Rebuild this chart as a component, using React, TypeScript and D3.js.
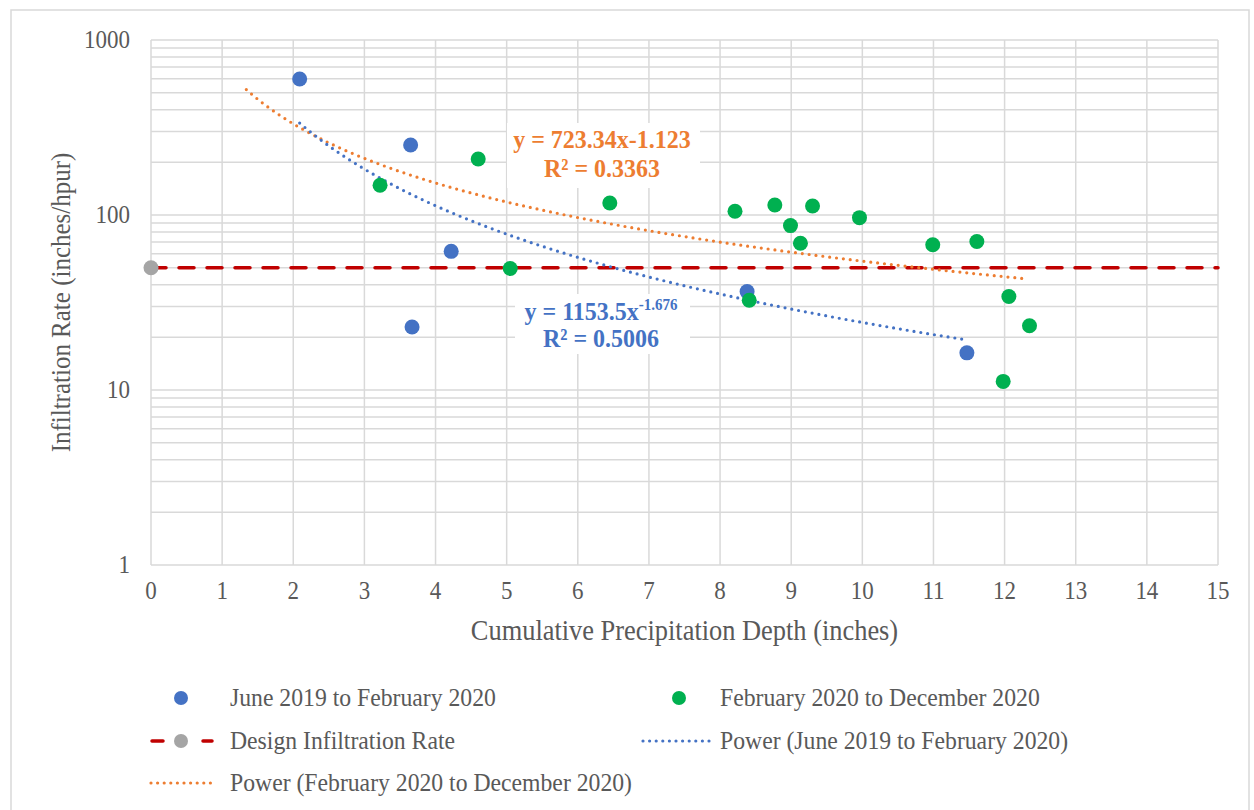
import React from "react";
import * as d3 from "d3";

// Cumulative precipitation depth (in) vs. infiltration rate (in/hr)
const juneSeriesX = [2.09, 3.65, 4.22, 3.67, 8.38, 11.47];
const juneSeriesY = [599, 251, 62, 22.9, 36.5, 16.3];

const febSeriesX = [3.22, 4.6, 5.05, 6.45, 8.21, 8.77, 8.99, 9.3, 9.13, 8.41, 9.96, 10.99, 11.61, 12.06, 12.35, 11.98];
const febSeriesY = [148, 209, 49.5, 117, 105, 114, 87, 112.5, 69, 32.6, 96.6, 67.6, 70.5, 34.2, 23.3, 11.2];

const designRate = 50;

// Power trendline fits: y = a * x^b
const juneFit = { a: 1153.5, b: -1.676, r2: "0.5006", from: 2.09, to: 11.45 };
const febFit = { a: 723.34, b: -1.123, r2: "0.3363", from: 1.34, to: 12.33 };

const xTicks = d3.range(0, 16);
const yTickLabels = [1, 10, 100, 1000];

const legendLabels = [
  "June 2019 to February 2020",
  "February 2020 to December 2020",
  "Design Infiltration Rate",
  "Power (June 2019 to February 2020)",
  "Power (February 2020 to December 2020)",
];

const BLUE = "#4472C4";
const GREEN = "#00B050";
const ORANGE = "#ED7D31";
const RED = "#C00000";
const GREY = "#A5A5A5";
const GRID = "#D9D9D9";
const TEXT = "#595959";
const FONT = "'Liberation Serif', 'Times New Roman', serif";
const SY = 1.08; // glyphs are drawn slightly taller than wide

type TProps = {
  x: number;
  y: number;
  size: number;
  anchor?: "start" | "middle" | "end";
  fill?: string;
  weight?: string;
  rotate?: number;
  children: React.ReactNode;
};

function T({ x, y, size, anchor = "start", fill = TEXT, weight = "normal", rotate = 0, children }: TProps) {
  const tf = rotate
    ? `translate(${x},${y}) rotate(${rotate}) scale(1,${SY})`
    : `translate(${x},${y}) scale(1,${SY})`;
  return (
    <text transform={tf} textAnchor={anchor} fontSize={size} fill={fill} fontWeight={weight}>
      {children}
    </text>
  );
}

export default function App() {
  const W = 1254;
  const H = 810;
  const left = 151;
  const right = 1218;
  const top = 40;
  const bottom = 565;

  const x = d3.scaleLinear().domain([0, 15]).range([left, right]);
  const y = d3.scaleLog().domain([1, 1000]).range([bottom, top]);

  // minor gridlines at 1..9 of each decade
  const hGrid: number[] = [];
  [1, 10, 100].forEach((d) => {
    for (let k = 1; k <= 9; k++) hGrid.push(d * k);
  });
  hGrid.push(1000);

  const fitPath = (f: typeof juneFit) => {
    const pts = d3.range(0, 201).map((i) => {
      const xv = f.from + ((f.to - f.from) * i) / 200;
      return [xv, f.a * Math.pow(xv, f.b)] as [number, number];
    });
    return d3
      .line<[number, number]>()
      .x((d) => x(d[0]))
      .y((d) => y(d[1]))(pts) as string;
  };

  const r = 7.5;
  const dot = { strokeWidth: 3.2, strokeDasharray: "0 6.9", strokeLinecap: "round" as const };

  return (
    <div style={{ position: "absolute", left: 0, top: 0 }}>
      <svg width={W} height={H} style={{ display: "block", background: "#fff" }} fontFamily={FONT}>
        <rect x={11} y={10} width={1238} height={810} fill="#fff" stroke={GRID} strokeWidth={1.5} />

        {/* gridlines */}
        {hGrid.map((v) => (
          <line key={"h" + v} x1={left} x2={right} y1={y(v)} y2={y(v)} stroke={GRID} strokeWidth={1.5} />
        ))}
        {xTicks.map((v) => (
          <line key={"v" + v} x1={x(v)} x2={x(v)} y1={top} y2={bottom} stroke={GRID} strokeWidth={1.5} />
        ))}

        {/* tick labels */}
        {xTicks.map((v) => (
          <T key={"xt" + v} x={x(v)} y={bottom + 34} size={23} anchor="middle">
            {v}
          </T>
        ))}
        {yTickLabels.map((v) => (
          <T key={"yt" + v} x={left - 21} y={y(v) + 7.5} size={23} anchor="end">
            {v}
          </T>
        ))}

        {/* axis titles */}
        <T x={(left + right) / 2} y={640} size={26.4} anchor="middle">
          Cumulative Precipitation Depth (inches)
        </T>
        <T x={70} y={(top + bottom) / 2} size={25} anchor="middle" rotate={-90}>
          Infiltration Rate (inches/hpur)
        </T>

        {/* design infiltration rate */}
        <line
          x1={x(0)}
          x2={x(15)}
          y1={y(designRate)}
          y2={y(designRate)}
          stroke={RED}
          strokeWidth={3.5}
          strokeDasharray="15 13"
          strokeLinecap="round"
        />
        <circle cx={x(0)} cy={y(designRate)} r={r} fill={GREY} />

        {/* trendlines */}
        <path d={fitPath(febFit)} fill="none" stroke={ORANGE} {...dot} />
        <path d={fitPath(juneFit)} fill="none" stroke={BLUE} {...dot} />

        {/* points */}
        {juneSeriesX.map((xv, i) => (
          <circle key={"j" + i} cx={x(xv)} cy={y(juneSeriesY[i])} r={r} fill={BLUE} />
        ))}
        {febSeriesX.map((xv, i) => (
          <circle key={"f" + i} cx={x(xv)} cy={y(febSeriesY[i])} r={r} fill={GREEN} />
        ))}

        {/* fit equations */}
        <rect x={507} y={123} width={193} height={65} fill="#fff" />
        <T x={602} y={148} size={24} anchor="middle" weight="bold" fill={ORANGE}>
          y = {febFit.a}x{febFit.b}
        </T>
        <T x={602} y={177} size={24} anchor="middle" weight="bold" fill={ORANGE}>
          R² = {febFit.r2}
        </T>

        <rect x={515} y={294} width={175} height={60} fill="#fff" />
        <T x={601} y={320} size={24} anchor="middle" weight="bold" fill={BLUE}>
          y = {juneFit.a}x
          <tspan fontSize={15} dy={-9}>
            {juneFit.b}
          </tspan>
        </T>
        <T x={601} y={347} size={24} anchor="middle" weight="bold" fill={BLUE}>
          R² = {juneFit.r2}
        </T>

        {/* legend */}
        <circle cx={181} cy={698} r={7} fill={BLUE} />
        <T x={230} y={706} size={23.7}>{legendLabels[0]}</T>

        <circle cx={679} cy={698} r={7} fill={GREEN} />
        <T x={720} y={706} size={23.7}>{legendLabels[1]}</T>

        <line x1={152} x2={212} y1={741} y2={741} stroke={RED} strokeWidth={3.5} strokeDasharray="11 40" strokeLinecap="round" />
        <circle cx={181} cy={741} r={7} fill={GREY} />
        <T x={230} y={749} size={23.7}>{legendLabels[2]}</T>

        <line x1={643} x2={713} y1={741} y2={741} stroke={BLUE} {...dot} strokeDasharray="0 6.6" />
        <T x={720} y={749} size={23.7}>{legendLabels[3]}</T>

        <line x1={151} x2={211} y1={783} y2={783} stroke={ORANGE} {...dot} strokeDasharray="0 6.6" />
        <T x={230} y={791} size={23.7}>{legendLabels[4]}</T>
      </svg>
    </div>
  );
}
